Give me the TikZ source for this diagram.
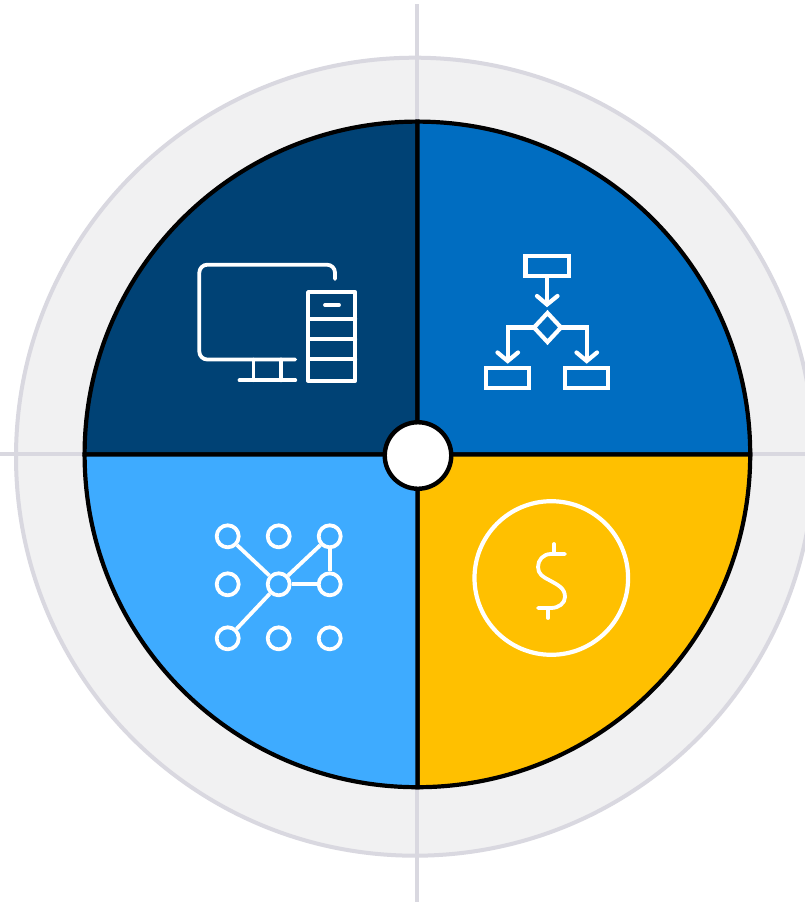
\documentclass[tikz,border=0pt]{standalone}
\tikzset{
  x=1pt,y=-1pt,
  guide/.style={line width=4pt,draw=ringgray},
  sector/.style={draw=black,line width=4.2pt},
  icon/.style={draw=white,line width=3.8pt,line cap=round,line join=round},
  iconb/.style={draw=white,line width=4.2pt,line join=miter},
  arrowhd/.style={draw=white,line width=4.2pt,line join=miter,line cap=round},
  dot/.style={icon,circle,inner sep=0pt,minimum size=22pt}
}
\definecolor{ringgray}{HTML}{D9D8E0}
\definecolor{ringfill}{HTML}{F1F1F2}
\definecolor{navy}{HTML}{004275}
\definecolor{midblue}{HTML}{006DC1}
\definecolor{skyblue}{HTML}{3EABFF}
\definecolor{gold}{HTML}{FFC000}
\begin{document}
\begin{tikzpicture}
\useasboundingbox (0,0) rectangle (805,902);
\clip (0,0) rectangle (805,902);
\fill[white] (0,0) rectangle (805,902);
% outer ring
\coordinate (c) at (417.4,454.4);
\draw[guide,fill=ringfill] (415,456.7) circle[radius=399];
\coordinate (gt) at (417,4); \coordinate (gb) at (417,902);
\coordinate (gl) at (0,454); \coordinate (gr) at (805,454);
\draw[guide] (gt) -- (gb);
\draw[guide] (gl) -- (gr);
% sectors
\filldraw[sector,fill=navy] (c) -- (84.6,454.4) arc[start angle=180,end angle=270,radius=332.8] -- cycle;
\filldraw[sector,fill=midblue] (c) -- (417.4,121.6) arc[start angle=270,end angle=360,radius=332.8] -- cycle;
\filldraw[sector,fill=gold] (c) -- (750.2,454.4) arc[start angle=0,end angle=90,radius=332.8] -- cycle;
\filldraw[sector,fill=skyblue] (c) -- (417.4,787.2) arc[start angle=90,end angle=180,radius=332.8] -- cycle;
\node[draw=black,fill=white,line width=4.4pt,circle,inner sep=0pt,minimum size=66.5pt] (hub) at (418,455.5) {};
% computer
\draw[icon] (335,279) -- (335,272.7) arc[start angle=0,end angle=-90,radius=8] -- (207.3,264.7) arc[start angle=-90,end angle=-180,radius=8] -- (199.3,351.5) arc[start angle=180,end angle=90,radius=8] -- (295.3,359.5);
\draw[icon] (239.5,380.3) -- (295.3,380.3);
\draw[icon] (253.5,359.5) -- (253.5,380.3);
\draw[icon] (281,359.5) -- (281,380.3);
\draw[icon] (308,292) rectangle (355.3,380.7);
\draw[icon] (308,318.7) -- (355.3,318.7);
\draw[icon] (308,339.3) -- (355.3,339.3);
\draw[icon] (308,359.3) -- (355.3,359.3);
\draw[icon] (325,305) -- (339,305);
% flowchart
\node[iconb,rectangle,inner sep=0pt,minimum width=43.2pt,minimum height=20.2pt] (ftop) at (547,266.2) {};
\node[iconb,rectangle,inner sep=0pt,minimum width=43pt,minimum height=20.2pt] (fl) at (507.5,378) {};
\node[iconb,rectangle,inner sep=0pt,minimum width=43pt,minimum height=20.2pt] (fr) at (586.8,378) {};
\draw[iconb] (547.5,313) -- (561,327.5) -- (547.5,342) -- (534,327.5) -- cycle;
\coordinate (dl) at (534,327.5); \coordinate (dr) at (561,327.5);
\draw[iconb] (ftop.south) -- (547,304);
\draw[arrowhd] (537,296) -- (547,304.5) -- (557.5,296);
\draw[iconb] (dl) -- (507.7,327.5) -- (507.7,361);
\draw[arrowhd] (497.5,352.5) -- (507.7,361) -- (518,352.5);
\draw[iconb] (dr) -- (586.7,327.5) -- (586.7,361);
\draw[arrowhd] (576.5,352.5) -- (586.7,361) -- (597,352.5);
% network
\node[dot] (n11) at (227.7,536.3) {};
\node[dot] (n12) at (278.7,536.3) {};
\node[dot] (n13) at (329.7,536.3) {};
\node[dot] (n21) at (227.7,584.3) {};
\node[dot] (n22) at (278.7,584.3) {};
\node[dot] (n23) at (329.7,584.3) {};
\node[dot] (n31) at (227.7,638.3) {};
\node[dot] (n32) at (278.7,638.3) {};
\node[dot] (n33) at (329.7,638.3) {};
\draw[icon,line cap=butt] (n11) -- (n22);
\draw[icon,line cap=butt] (n13) -- (n22);
\draw[icon,line cap=butt] (n31) -- (n22);
\draw[icon,line cap=butt] (n22) -- (n23);
\draw[icon,line cap=butt] (n13) -- (n23);
% dollar
\node[draw=white,line width=4.2pt,circle,inner sep=0pt,minimum size=153.6pt] (coin) at (551.3,578) {};
\draw[icon] (565,554) -- (551,554) .. controls (543,554) and (538,560) .. (538,567) .. controls (538,574) and (543,577) .. (549,580) .. controls (558,585) and (565,588) .. (565,597) .. controls (565,603) and (559,608) .. (551,608) -- (538,608);
\draw[icon] (554,544) -- (554,554);
\draw[icon] (548,608) -- (548,618);
\end{tikzpicture}
\end{document}
